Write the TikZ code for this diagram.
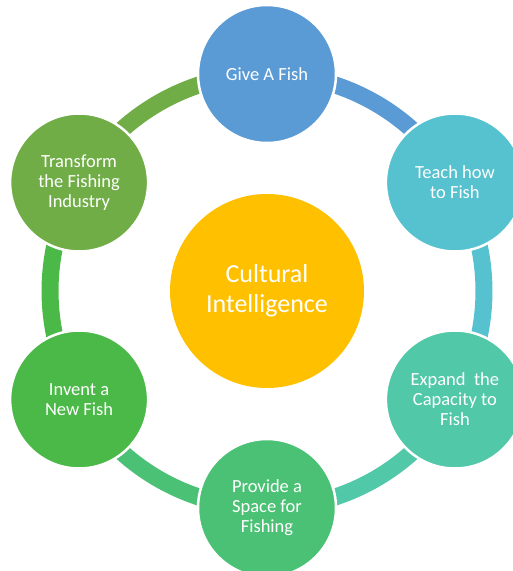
\documentclass[tikz,border=0pt]{standalone}
\usepackage{fontspec}
\setmainfont{Carlito}
\definecolor{cGive}{HTML}{5B9BD5}
\definecolor{cTeach}{HTML}{56C2CF}
\definecolor{cExpand}{HTML}{51C8A8}
\definecolor{cProvide}{HTML}{4BC175}
\definecolor{cInvent}{HTML}{4BB947}
\definecolor{cTransform}{HTML}{70AD47}
\definecolor{cCenter}{HTML}{FFC000}
\begin{document}
\begin{tikzpicture}[x=1pt,y=1pt,
  stage/.style={circle, minimum size=138pt, inner sep=0pt, draw=white, line width=2.5pt,
    text=white, align=center, font=\fontsize{18.5}{20}\selectfont},
  hub/.style={circle, minimum size=194pt, inner sep=0pt, fill=cCenter,
    text=white, align=center, font=\fontsize{26}{30}\selectfont},
  band/.style={line width=17pt}]
\useasboundingbox (0,0) rectangle (513,571);
\clip (0,0) rectangle (513,571);
\coordinate (O) at (267,280);
\coordinate (pGive) at (267,497);
\coordinate (pTeach) at (454.9,388.5);
\coordinate (pExpand) at (454.9,171.5);
\coordinate (pProvide) at (267,63);
\coordinate (pInvent) at (79.1,171.5);
\coordinate (pTransform) at (79.1,388.5);
% ring bands
\draw[band, cGive] (pGive) arc[start angle=90, end angle=30, radius=217];
\draw[band, cTeach] (pTeach) arc[start angle=30, end angle=-30, radius=217];
\draw[band, cExpand] (pExpand) arc[start angle=-30, end angle=-90, radius=217];
\draw[band, cProvide] (pProvide) arc[start angle=-90, end angle=-150, radius=217];
\draw[band, cInvent] (pInvent) arc[start angle=210, end angle=150, radius=217];
\draw[band, cTransform] (pTransform) arc[start angle=150, end angle=90, radius=217];
% nodes
\node[hub] (hub) at (O) {Cultural\\Intelligence};
\node[stage, fill=cGive] (give) at (pGive) {Give A Fish};
\node[stage, fill=cTeach] (teach) at (pTeach) {Teach how\\to Fish};
\node[stage, fill=cExpand] (expand) at (pExpand) {Expand\ \ the\\Capacity to\\Fish};
\node[stage, fill=cProvide] (provide) at (pProvide) {Provide a\\Space for\\Fishing};
\node[stage, fill=cInvent] (invent) at (pInvent) {Invent a\\New Fish};
\node[stage, fill=cTransform] (transform) at (pTransform) {Transform\\the Fishing\\Industry};
\end{tikzpicture}
\end{document}
